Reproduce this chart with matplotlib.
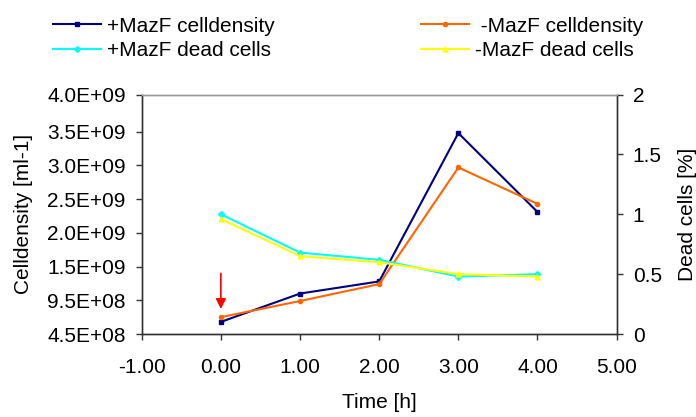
import matplotlib
matplotlib.use('Agg')
import matplotlib.pyplot as plt

plt.rcParams['font.family'] = ['Liberation Sans', 'DejaVu Sans']

# data
time_h = [0, 1, 2, 3, 4]
plus_density = [6.3e8, 1.05e9, 1.23e9, 3.43e9, 2.26e9]
minus_density = [7.0e8, 9.4e8, 1.19e9, 2.92e9, 2.38e9]
plus_dead = [1.00, 0.68, 0.62, 0.48, 0.50]
minus_dead = [0.96, 0.65, 0.60, 0.50, 0.48]

xticks = [-1, 0, 1, 2, 3, 4, 5]
left_ticks = [4.5e8, 9.5e8, 1.45e9, 1.95e9, 2.45e9, 2.95e9, 3.45e9, 4.0e9]
left_labels = ['4.5E+08', '9.5E+08', '1.5E+09', '2.0E+09', '2.5E+09', '3.0E+09', '3.5E+09', '4.0E+09']
right_ticks = [0, 0.5, 1, 1.5, 2]
right_labels = ['0', '0.5', '1', '1.5', '2']

fs = 15
fig = plt.figure(figsize=(6.96, 4.17), dpi=100)
ax = fig.add_axes([0.2036, 0.199, 0.6824, 0.574])
ax2 = ax.twinx()

l1, = ax.plot(time_h, plus_density, color='#000080', lw=1.5, marker='s', ms=3, label='+MazF celldensity')
l2, = ax.plot(time_h, minus_density, color='#FF6600', lw=1.5, marker='o', ms=3, label=' -MazF celldensity')
l3, = ax2.plot(time_h, plus_dead, color='#00FFFF', lw=1.5, marker='D', ms=3, label='+MazF dead cells')
l4, = ax2.plot(time_h, minus_dead, color='#FFFF00', lw=1.5, marker='^', ms=3.5, label='-MazF dead cells')

ax.set_xlim(-1, 5)
ax.set_ylim(4.5e8, 4.0e9)
ax.set_yticks(left_ticks)
ax.set_yticklabels(left_labels)
ax.set_xticks(xticks)
ax.set_xticklabels(['%.2f' % t for t in xticks])
ax2.set_ylim(0, 2)
ax2.set_yticks(right_ticks)
ax2.set_yticklabels(right_labels)

for a in (ax, ax2):
    a.tick_params(labelsize=fs, direction='out', length=4, width=1, pad=7.5,
                  colors='#333333', labelcolor='black')
    for s in a.spines.values():
        s.set_color('#333333')
        s.set_linewidth(1)
    a.spines['top'].set_color('#999999')
ax.tick_params(axis='x', pad=13)

ax.set_ylabel('Celldensity [ml-1]', fontsize=fs, labelpad=10)
ax2.set_ylabel('Dead cells [%]', fontsize=fs, labelpad=12)
ax.set_xlabel('Time [h]', fontsize=fs, labelpad=12)

# red arrow marking t = 0
ax.annotate('', xy=(0, 7.8e8), xytext=(0, 1.39e9),
            arrowprops=dict(arrowstyle='-|>', color='red', lw=1.2, mutation_scale=15))

leg_kw = dict(loc='upper left', frameon=False, fontsize=fs, handlelength=2.3,
              handletextpad=0.3, labelspacing=0.25, borderpad=0, borderaxespad=0)
fig.legend(handles=[l1, l3], bbox_to_anchor=(0.076, 0.96), **leg_kw)
fig.legend(handles=[l2, l4], bbox_to_anchor=(0.605, 0.96), **leg_kw)

fig.savefig('out.png', dpi=100)
